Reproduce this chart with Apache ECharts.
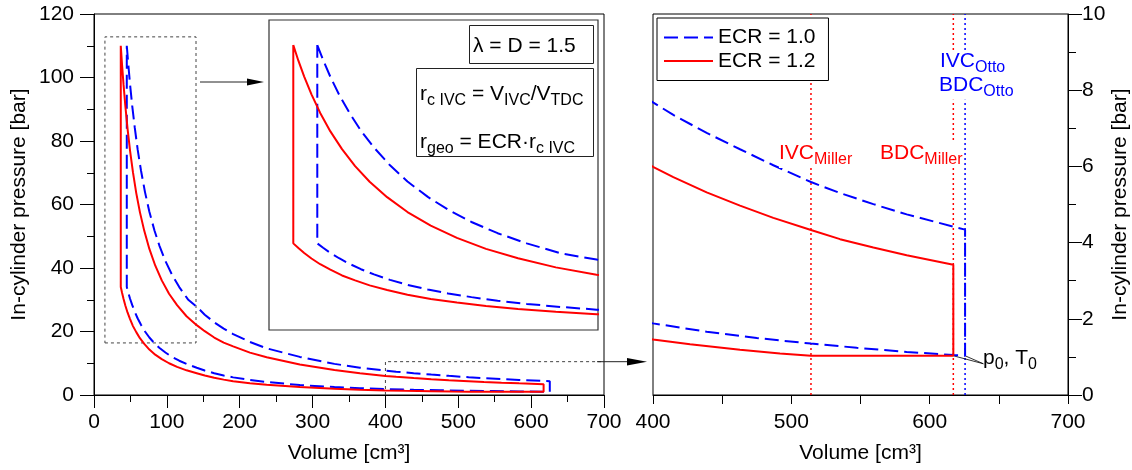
<!DOCTYPE html>
<html><head><meta charset="utf-8">
<script src="https://cdn.jsdelivr.net/npm/echarts@6/dist/echarts.min.js"></script>
<style>html,body{margin:0;padding:0;background:#fff;}#c{width:1132px;height:470px;}</style>
</head><body><div id="c"></div>
<script>
// ---------- data (volume [cm3], pressure [bar]) ----------
const seriesNames = ['ECR = 1.0', 'ECR = 1.2'];
const volumeTicks = [0, 100, 200, 300, 400, 500, 600, 700];
const zoomTicks = [400, 500, 600, 700];
const pressureTicks = [0, 20, 40, 60, 80, 100, 120];
const zoomPressureTicks = [0, 2, 4, 6, 8, 10];

const ecr10Expansion = [[45,110],[47,104.3],[49.5,97.8],[52.5,91.0],[56,84.1],[60,77.2],[64.5,70.7],[70,63.9],[76,57.7],[83,51.8],[90,46.9],[98,42.2],[107,37.9],[117,34.0],[129,30.1],[141,27.8],[152,25.3],[165,22.9],[178,20.9],[191,19.2],[214,16.7],[237,14.7],[282.5,12.0],[330,9.8],[365,8.6],[400,7.68],[414.7,7.35],[438.8,6.88],[462.9,6.45],[487,6.03],[514.2,5.59],[535.2,5.30],[559.3,5.01],[583.4,4.74],[617.1,4.42],[625.6,4.34]];
const ecr10Compression = [[625.6,1.03],[617.1,1.05],[583.4,1.13],[547.3,1.24],[514.2,1.35],[475,1.495],[438.8,1.66],[400,1.88],[365,2.15],[330,2.5],[282.5,3.12],[237,4.1],[214,4.73],[191,5.55],[178,6.14],[165,6.85],[152,7.71],[141,8.6],[129,9.6],[117,10.8],[107,12.0],[98,13.4],[90,14.8],[83,16.3],[76,18.1],[70,20.0],[64.5,22.1],[60,24.1],[56,26.2],[52.5,28.3],[49.5,30.3],[47,32.3],[45,34]];
const ecr12Expansion = [[36.75,110],[38.5,104.0],[40.5,97.9],[43,91.1],[46,84.0],[49.5,76.9],[53.5,70.1],[58,63.6],[63,57.6],[69,51.7],[76,46.0],[84,40.8],[93,36.1],[103,31.9],[114,28.3],[127,24.8],[141,22.0],[152,20.1],[165,18.1],[178,16.5],[191,15.3],[214,13.35],[237,11.9],[282.5,9.6],[330,7.9],[365,6.85],[400,5.99],[414.7,5.72],[438.8,5.32],[462.9,4.97],[487,4.65],[514.2,4.33],[535.2,4.09],[559.3,3.87],[583.4,3.67],[617.1,3.42]];
const ecr12Compression = [[617.1,1.03],[514.2,1.03],[491.8,1.09],[462.9,1.19],[426.8,1.33],[400,1.455],[365,1.68],[330,1.98],[282.5,2.5],[237,3.22],[214,3.72],[191,4.36],[178,4.84],[165,5.42],[152,6.12],[141,6.85],[127,7.77],[114,8.84],[103,10.0],[93,11.3],[84,12.7],[76,14.3],[69,16.1],[63,17.9],[58,19.8],[53.5,21.7],[49.5,23.9],[46,26.0],[43,28.2],[40.5,30.3],[38.5,32.2],[36.75,34]];

const ivcMiller = 514.2, bdcMiller = 617.1, bdcOtto = 625.6;
const zoomRegionTop = [[15,16.4],[140,16.4],[140,112.8],[15,112.8],[15,16.4]];
const zoomRegionBottom = [[400,0],[400,10.5],[700,10.5]];
const insetVolumeRange = [28.4, 141.5];
const insetPressureRange = [0.8, 119.6];
const p0Anchor = [638.8, 0.82];

// ---------- build ----------
const ecr10Loop = ecr10Expansion.concat(ecr10Compression, [ecr10Expansion[0]]);
const ecr12Loop = ecr12Expansion.concat(ecr12Compression, [ecr12Expansion[0]]);
const FONT = 'Liberation Sans, Arial, sans-serif';
const BLUE = '#0000ff', RED = '#ff0000';
const txt = {fontSize:21, color:'#000', fontFamily:FONT};

function cycle(name, data, xi, color, dashed) {
  return {type:'line', name, data, xAxisIndex:xi, yAxisIndex:xi, symbol:'none', showSymbol:false,
    clip:true, silent:true, animation:false, z:3,
    itemStyle:{color}, lineStyle:{color, width:2, type: dashed ? [14,6] : 'solid'}};
}
function plain(data, xi, color, width, type) {
  return {type:'line', data, xAxisIndex:xi, yAxisIndex:xi, symbol:'none', clip:true, silent:true,
    animation:false, z:2, lineStyle:{color, width, type}};
}
const axCommon = (tickLen, minorLen) => ({
  type:'value',
  axisLine:{show:true, onZero:false, lineStyle:{color:'#000', width:1}},
  axisTick:{show:true, length:tickLen, lineStyle:{color:'#000', width:1}},
  minorTick:{show:true, splitNumber:2, length:minorLen, lineStyle:{color:'#000', width:1}},
  splitLine:{show:false}, minorSplitLine:{show:false},
});

const rich = (color) => ({
  m:{fontSize:21, fontFamily:FONT, fill:color, verticalAlign:'bottom', padding:[0,0,4,0]},
  s:{fontSize:16, fontFamily:FONT, fill:color, verticalAlign:'bottom'}
});
function richText(x, y, text, color, bg) {
  return {type:'text', z:100, silent:true, style:{x, y, text, rich:rich(color), verticalAlign:'top', align:'left',
    backgroundColor: bg ? '#fff' : null, fill:color, fontSize:21, fontFamily:FONT}};
}

const option = {
  animation:false,
  backgroundColor:'#fff',
  grid:[
    {left:94, top:14, width:510, height:381, show:true, borderColor:'#000', borderWidth:1, outerBoundsMode:'none'},
    {left:653, top:14, width:415, height:381, show:true, borderColor:'#000', borderWidth:1, outerBoundsMode:'none'},
    {left:269, top:20, width:329, height:310, show:true, borderColor:'#333', borderWidth:1.2, backgroundColor:'#fff', outerBoundsMode:'none'}
  ],
  xAxis:[
    Object.assign(axCommon(13,7), {gridIndex:0, min:volumeTicks[0], max:volumeTicks[volumeTicks.length-1], interval:100,
      axisLabel:Object.assign({margin:17}, txt), name:'Volume [cm³]', nameLocation:'middle', nameGap:48, nameTextStyle:txt}),
    Object.assign(axCommon(9,9), {gridIndex:1, min:zoomTicks[0], max:zoomTicks[zoomTicks.length-1], interval:100,
      axisLabel:Object.assign({margin:17}, txt), name:'Volume [cm³]', nameLocation:'middle', nameGap:48, nameTextStyle:txt}),
    {gridIndex:2, type:'value', min:insetVolumeRange[0], max:insetVolumeRange[1], show:false}
  ],
  yAxis:[
    Object.assign(axCommon(14,7), {gridIndex:0, min:pressureTicks[0], max:pressureTicks[pressureTicks.length-1], interval:20,
      axisLabel:Object.assign({margin:20}, txt), name:'In-cylinder pressure [bar]', nameLocation:'middle', nameRotate:90, nameGap:64, nameTextStyle:txt}),
    Object.assign(axCommon(14,8), {gridIndex:1, position:'right', min:zoomPressureTicks[0], max:zoomPressureTicks[zoomPressureTicks.length-1], interval:2,
      axisLabel:Object.assign({margin:14}, txt), name:'In-cylinder pressure [bar]', nameLocation:'middle', nameRotate:90, nameGap:41, nameTextStyle:txt}),
    {gridIndex:2, type:'value', min:insetPressureRange[0], max:insetPressureRange[1], show:false}
  ],
  legend:{
    data:seriesNames, orient:'vertical', left:657, top:18, padding:[9,13,9,6], itemGap:2.5,
    itemWidth:49, itemHeight:14, borderColor:'#000', borderWidth:1, backgroundColor:'#fff',
    itemStyle:{opacity:0, borderWidth:0},
    textStyle:{fontSize:21, color:'#000', fontFamily:FONT}, selectedMode:false
  },
  series:[
    plain(zoomRegionTop, 0, '#444', 1, [3,3]),
    plain(zoomRegionBottom, 0, '#444', 1, [3,3]),
    cycle(seriesNames[0], ecr10Loop, 0, BLUE, true),
    cycle(seriesNames[1], ecr12Loop, 0, RED, false),
    cycle(seriesNames[0], ecr10Loop, 2, BLUE, true),
    cycle(seriesNames[1], ecr12Loop, 2, RED, false),
    plain([[ivcMiller,0],[ivcMiller,10]], 1, RED, 1.5, [2,3]),
    plain([[bdcMiller,0],[bdcMiller,10]], 1, RED, 1.5, [2,3]),
    plain([[bdcOtto,0],[bdcOtto,10]], 1, BLUE, 1.5, [2,3]),
    cycle(seriesNames[0], ecr10Loop, 1, BLUE, true),
    cycle(seriesNames[1], ecr12Loop, 1, RED, false),
    plain([p0Anchor,[bdcMiller,1.03]], 1, '#000', 0.8, 'solid'),
    plain([p0Anchor,[bdcOtto,1.03]], 1, '#000', 0.8, 'solid')
  ],
  graphic:[
    {type:'line', z:100, silent:true, shape:{x1:200,y1:82,x2:248,y2:82}, style:{stroke:'#222', lineWidth:1}},
    {type:'polygon', z:100, silent:true, shape:{points:[[247,78.5],[264,82],[247,85.5]]}, style:{fill:'#000'}},
    {type:'line', z:100, silent:true, shape:{x1:597,y1:361.7,x2:628,y2:361.7}, style:{stroke:'#222', lineWidth:1}},
    {type:'polygon', z:100, silent:true, shape:{points:[[627,358],[647,361.7],[627,365.4]]}, style:{fill:'#000'}},
    {type:'rect', z:100, silent:true, shape:{x:469.5,y:25.5,width:124,height:38}, style:{fill:'#fff', stroke:'#222', lineWidth:1}},
    {type:'text', z:101, silent:true, style:{x:473, y:36, text:'λ = D = 1.5', fill:'#000', fontSize:21, fontFamily:FONT, verticalAlign:'top', align:'left'}},
    {type:'rect', z:100, silent:true, shape:{x:416.5,y:68.5,width:177,height:88}, style:{fill:'#fff', stroke:'#222', lineWidth:1}},
    richText(420, 83.5, '{m|r}{s|c IVC}{m| = V}{s|IVC}{m|/V}{s|TDC}', '#000', false),
    richText(420, 131.3, '{m|r}{s|geo}{m| = ECR·r}{s|c IVC}', '#000', false),
    richText(779, 143, '{m|IVC}{s|Miller}', RED, true),
    richText(880, 143, '{m|BDC}{s|Miller}', RED, true),
    richText(940, 51, '{m|IVC}{s|Otto}', BLUE, true),
    richText(939, 74.7, '{m|BDC}{s|Otto}', BLUE, true),
    richText(983, 348, '{m|p}{s|0}{m|, T}{s|0}', '#000', false)
  ]
};
const chart = echarts.init(document.getElementById('c'));
chart.setOption(option);
</script>
</body></html>
